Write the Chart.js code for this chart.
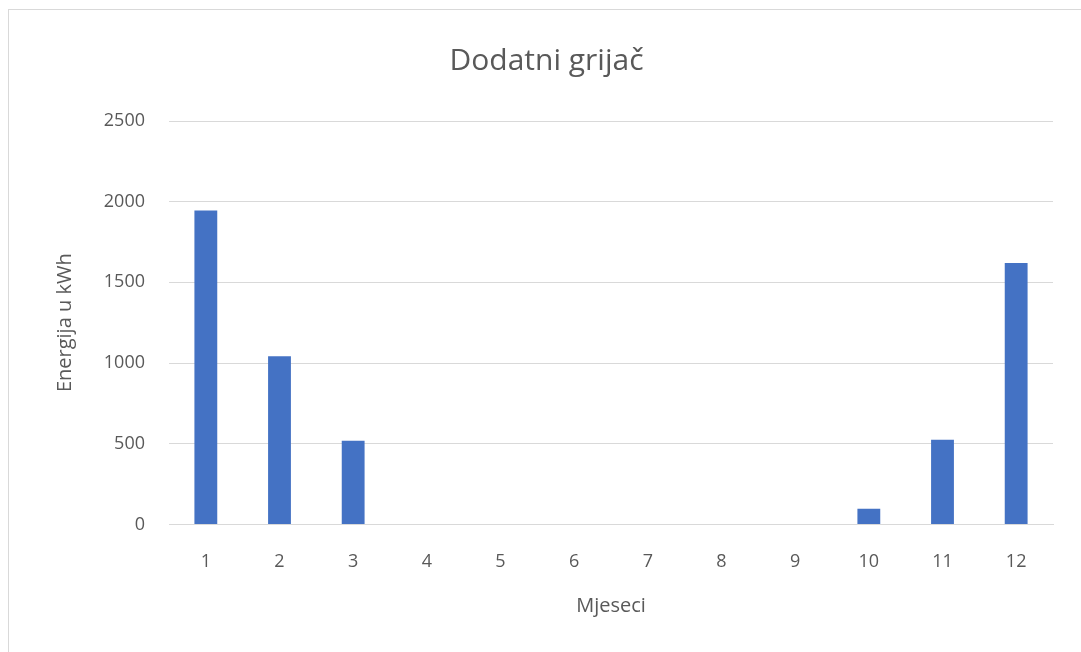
<!DOCTYPE html>
<html>
<head>
<meta charset="utf-8">
<script src="https://cdn.jsdelivr.net/npm/chart.js@4"></script>
<style>
  html, body { margin:0; padding:0; background:#fff; }
  #frame { position:absolute; left:8px; top:9px; width:1090px; height:660px; border:1px solid #d9d9d9; box-sizing:border-box; }
  #wrap { position:absolute; left:0; top:0; width:1081px; height:652px; }
</style>
</head>
<body>
<div id="frame"></div>
<div id="wrap"><canvas id="chBar" width="1081" height="652"></canvas></div>
<script>
// mjeseci i potrošnja dodatnog grijača
const months = ['1','2','3','4','5','6','7','8','9','10','11','12'];
const energy = [1945, 1042, 518, 0, 0, 0, 0, 0, 0, 97, 524, 1620];
const yTicks = [0, 500, 1000, 1500, 2000, 2500];

const grey = '#595959';
const font = '"Open Sans", "Noto Sans", sans-serif';

const chBar = document.getElementById("chBar");
new Chart(chBar, {
  type: 'bar',
  data: {
    labels: months,
    datasets: [{
      label: 'Energija',
      data: energy,
      backgroundColor: '#4472C4',
      borderWidth: 0,
      barPercentage: 0.31,
      categoryPercentage: 1
    }]
  },
  options: {
    responsive: false,
    animation: false,
    layout: { padding: { left: 40, right: 28, top: 0, bottom: 36 } },
    plugins: {
      legend: { display: false },
      tooltip: { enabled: false },
      title: {
        display: true,
        text: 'Dodatni grijač',
        color: grey,
        font: { family: font, size: 30, weight: 'normal' },
        padding: { top: 43, bottom: 42 }
      }
    },
    scales: {
      x: {
        grid: { display: false, drawTicks: false },
        border: { display: true, color: '#d9d9d9' },
        ticks: { color: grey, font: { family: font, size: 18 }, padding: 27 },
        title: {
          display: true, text: 'Mjeseci', color: grey,
          font: { family: font, size: 20, lineHeight: 0.6 }, padding: { top: 0 }
        }
      },
      y: {
        min: yTicks[0],
        max: yTicks[yTicks.length - 1],
        afterBuildTicks: s => { s.ticks = yTicks.map(v => ({ value: v })); },
        afterFit: s => { s.width = 129; },
        grid: { color: '#d9d9d9', drawTicks: false },
        border: { display: false },
        ticks: {
          color: grey, font: { family: font, size: 18 }, padding: 24,
          callback: v => String(v)
        },
        title: {
          display: true, text: 'Energija u kWh', color: grey,
          font: { family: font, size: 20 }, padding: { top: 13, bottom: 0 }
        }
      }
    }
  }
});
</script>
</body>
</html>
